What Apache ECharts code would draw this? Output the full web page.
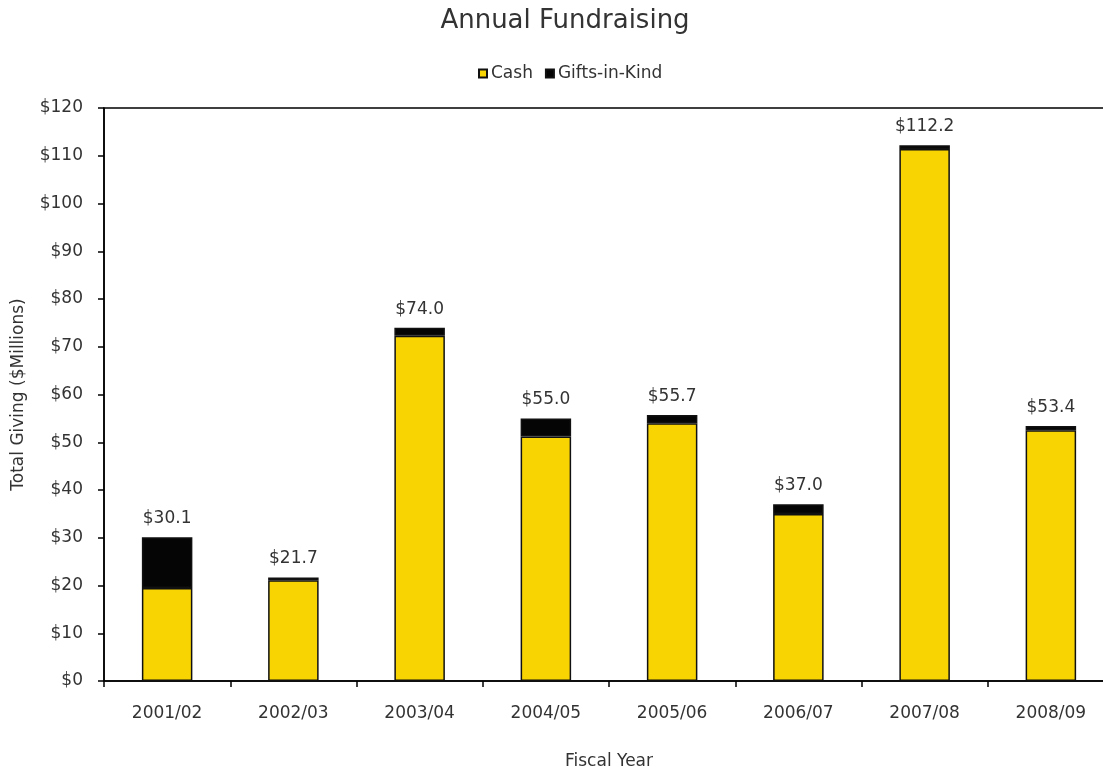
<!DOCTYPE html>
<html>
<head>
<meta charset="utf-8">
<script src="https://cdn.jsdelivr.net/npm/echarts@6/dist/echarts.min.js"></script>
<style>html,body{margin:0;padding:0;background:#fff}#c{width:1103px;height:767px}</style>
</head>
<body>
<div id="c"></div>
<script>
const categories = ['2001/02','2002/03','2003/04','2004/05','2005/06','2006/07','2007/08','2008/09'];
const cash = [19.5, 21.1, 72.3, 51.2, 54.0, 35.0, 111.4, 52.5];
const giftsInKind = [10.6, 0.6, 1.7, 3.8, 1.7, 2.0, 0.8, 0.9];
const totals = ['30.1','21.7','74.0','55.0','55.7','37.0','112.2','53.4'];

const FONT = 'DejaVu Sans';
const TXT = '#333';
const chart = echarts.init(document.getElementById('c'));
chart.setOption({
  animation: false,
  backgroundColor: '#fff',
  textStyle: { fontFamily: FONT },
  title: {
    text: 'Annual Fundraising',
    left: 565, top: 8, padding: 0, textAlign: 'center',
    textStyle: { fontFamily: FONT, fontSize: 26, fontWeight: 'normal', color: TXT }
  },
  legend: {
    data: ['Cash', 'Gifts-in-Kind'],
    left: 478, top: 65, padding: 0,
    itemWidth: 8, itemHeight: 8, itemGap: 12,
    icon: 'rect',
    textStyle: { fontFamily: FONT, fontSize: 17, color: TXT, padding: [0, 0, 0, -1] }
  },
  grid: { left: 104, top: 108, width: 1010, height: 573, show: true, borderColor: '#000', borderWidth: 1.5, containLabel: false, outerBoundsMode: 'none' },
  xAxis: {
    type: 'category', data: categories,
    name: 'Fiscal Year', nameLocation: 'middle', nameGap: 72,
    nameTextStyle: { fontFamily: FONT, fontSize: 17, color: TXT },
    axisLine: { lineStyle: { color: '#000', width: 1.5 } },
    axisTick: { show: true, length: 6, lineStyle: { color: '#000', width: 1.5 } },
    axisLabel: { fontFamily: FONT, fontSize: 17, color: TXT, margin: 24 }
  },
  yAxis: {
    type: 'value', min: 0, max: 120, interval: 10,
    name: 'Total Giving ($Millions)', nameLocation: 'middle', nameGap: 77, nameRotate: 90,
    nameTextStyle: { fontFamily: FONT, fontSize: 17, color: TXT },
    splitLine: { show: false },
    axisLine: { show: true, lineStyle: { color: '#000', width: 1.5 } },
    axisTick: { show: true, length: 6, lineStyle: { color: '#000', width: 1.5 } },
    axisLabel: { fontFamily: FONT, fontSize: 17, color: TXT, margin: 21, formatter: '${value}' }
  },
  series: [
    {
      name: 'Cash', type: 'bar', stack: 'total', data: cash, barWidth: '40%',
      itemStyle: { color: '#F9D403', borderColor: '#111', borderWidth: 1.5 }
    },
    {
      name: 'Gifts-in-Kind', type: 'bar', stack: 'total', data: giftsInKind, barWidth: '40%',
      itemStyle: { color: '#050505', borderColor: '#111', borderWidth: 1.5 },
      label: {
        show: true, position: 'top', distance: 10,
        fontFamily: FONT, fontSize: 17, color: TXT,
        formatter: p => '$' + totals[p.dataIndex]
      }
    }
  ]
});
</script>
</body>
</html>
